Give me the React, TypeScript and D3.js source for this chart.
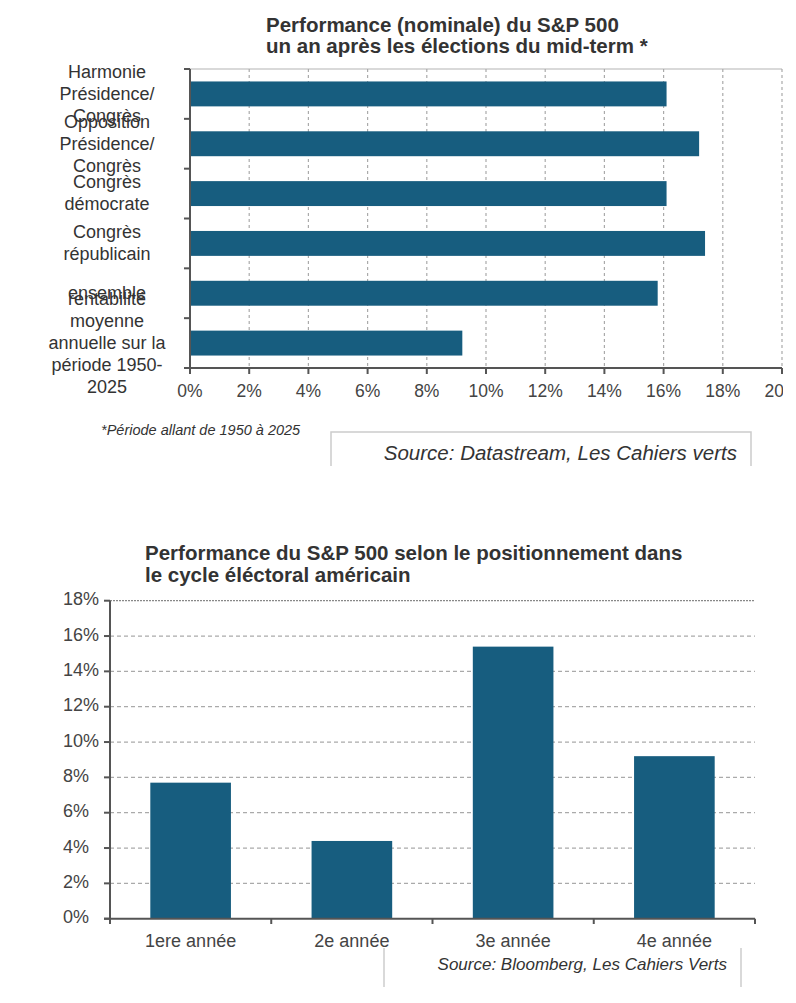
import { useEffect, useRef } from "react";
import * as d3 from "d3";

// chart 1: performance un an après les mid-terms
const midtermLabels: string[][] = [
  ["Harmonie", "Présidence/", "Congrès"],
  ["Opposition", "Présidence/", "Congrès"],
  ["Congrès", "démocrate"],
  ["Congrès", "républicain"],
  ["ensemble"],
  ["rentabilité", "moyenne", "annuelle sur la", "période 1950-", "2025"],
];
const midtermValues = [16.1, 17.2, 16.1, 17.4, 15.8, 9.2];
const midtermTicks = [0, 2, 4, 6, 8, 10, 12, 14, 16, 18, 20];

// chart 2: cycle électoral
const cycleCategories = ["1ere année", "2e année", "3e année", "4e année"];
const cycleValues = [7.7, 4.4, 15.4, 9.2];
const cycleTicks = [0, 2, 4, 6, 8, 10, 12, 14, 16, 18];

const FONT = "'Liberation Sans', Arial, sans-serif";
const BAR = "#175d7f";
const TEXT = "#333";

export default function App() {
  const ref = useRef<SVGSVGElement | null>(null);

  useEffect(() => {
    if (!ref.current) return;
    const svg = d3.select(ref.current);
    svg.selectAll("*").remove();
    svg.attr("width", 796).attr("height", 1003).style("font-family", FONT);

    // ---------- top chart ----------
    const top = svg.append("g");
    const x = d3.scaleLinear().domain([0, 20]).range([190, 782]);
    const idx = midtermValues.map((_, i) => String(i));
    const y = d3.scaleBand().domain(idx).range([69, 368]).paddingInner(0.5).paddingOuter(0.25);

    svg.append("defs").append("clipPath").attr("id", "clipTop")
      .append("rect").attr("x", 0).attr("y", 0).attr("width", 783).attr("height", 420);

    top.selectAll("text.title")
      .data(["Performance (nominale) du S&P 500", "un an après les élections du mid-term *"])
      .enter().append("text")
      .attr("x", 266).attr("y", (d, i) => 32 + i * 21)
      .attr("font-size", 20.5).attr("font-weight", "bold").attr("fill", TEXT)
      .text((d) => d);

    top.append("line")
      .attr("x1", x(0)).attr("x2", x(20)).attr("y1", 69).attr("y2", 69)
      .attr("stroke", "#ccc").attr("stroke-width", 1.5);

    top.selectAll("line.grid")
      .data(midtermTicks.slice(1))
      .enter().append("line")
      .attr("x1", (d) => x(d)).attr("x2", (d) => x(d))
      .attr("y1", 69).attr("y2", 368)
      .attr("stroke", "#aaa").attr("stroke-width", 1.2).attr("stroke-dasharray", "3,3");

    top.selectAll("rect.bar")
      .data(midtermValues)
      .enter().append("rect")
      .attr("x", x(0))
      .attr("y", (d, i) => y(String(i))!)
      .attr("width", (d) => x(d) - x(0))
      .attr("height", y.bandwidth())
      .attr("fill", BAR);

    // axes
    top.append("line").attr("x1", 190).attr("x2", 190).attr("y1", 69).attr("y2", 368)
      .attr("stroke", "#555").attr("stroke-width", 2);
    top.append("line").attr("x1", 184).attr("x2", 782).attr("y1", 368).attr("y2", 368)
      .attr("stroke", "#555").attr("stroke-width", 2);
    const bounds = idx.map((k) => y(k)! - (y.step() * y.paddingInner()) / 2).concat([368]);
    top.selectAll("line.ytick")
      .data(bounds)
      .enter().append("line")
      .attr("x1", 184).attr("x2", 190).attr("y1", (d) => d).attr("y2", (d) => d)
      .attr("stroke", "#555").attr("stroke-width", 2);
    top.selectAll("line.xtick")
      .data(midtermTicks)
      .enter().append("line")
      .attr("x1", (d) => x(d)).attr("x2", (d) => x(d)).attr("y1", 368).attr("y2", 374)
      .attr("stroke", "#555").attr("stroke-width", 2);

    top.append("g").attr("clip-path", "url(#clipTop)")
      .selectAll("text")
      .data(midtermTicks)
      .enter().append("text")
      .attr("x", (d) => x(d)).attr("y", 397)
      .attr("text-anchor", "middle").attr("font-size", 17.5).attr("fill", "#444")
      .text((d) => `${d}%`);

    midtermLabels.forEach((lines, i) => {
      const cy = y(String(i))! + y.bandwidth() / 2 + 1;
      top.append("text")
        .attr("text-anchor", "middle").attr("font-size", 18).attr("fill", TEXT)
        .selectAll("tspan")
        .data(lines)
        .enter().append("tspan")
        .attr("x", 107)
        .attr("y", (d, j) => cy + (j - (lines.length - 1) / 2) * 22)
        .attr("dominant-baseline", "middle")
        .text((d) => d);
    });

    top.append("text")
      .attr("x", 101).attr("y", 435)
      .attr("font-size", 14.5).attr("font-style", "italic").attr("fill", TEXT)
      .text("*Période allant de 1950 à 2025");

    top.append("path")
      .attr("d", "M331,466V432H751V466")
      .attr("fill", "none").attr("stroke", "#ccc").attr("stroke-width", 1.5);
    top.append("text")
      .attr("x", 737).attr("y", 460)
      .attr("text-anchor", "end").attr("font-size", 20.5).attr("font-style", "italic").attr("fill", TEXT)
      .text("Source: Datastream, Les Cahiers verts");

    // ---------- bottom chart ----------
    const bot = svg.append("g");
    const bx = d3.scaleBand().domain(cycleCategories).range([110, 755]).paddingInner(0.5).paddingOuter(0.25);
    const by = d3.scaleLinear().domain([0, 18]).range([918.7, 600.7]);

    bot.selectAll("text.title")
      .data(["Performance du S&P 500 selon le positionnement dans", "le cycle éléctoral américain"])
      .enter().append("text")
      .attr("x", 145).attr("y", (d, i) => 560 + i * 22)
      .attr("font-size", 20.5).attr("font-weight", "bold").attr("fill", TEXT)
      .text((d) => d);

    bot.selectAll("line.grid")
      .data(cycleTicks.slice(1))
      .enter().append("line")
      .attr("x1", 110).attr("x2", 755)
      .attr("y1", (d) => by(d)).attr("y2", (d) => by(d))
      .attr("stroke", (d) => (d === 18 ? "#888" : "#aaa"))
      .attr("stroke-width", 1.2)
      .attr("stroke-dasharray", (d) => (d === 18 ? "2,1" : "4,3"));

    bot.selectAll("rect.bar")
      .data(cycleValues)
      .enter().append("rect")
      .attr("x", (d, i) => bx(cycleCategories[i])!)
      .attr("y", (d) => by(d))
      .attr("width", bx.bandwidth())
      .attr("height", (d) => by(0) - by(d))
      .attr("fill", BAR);

    bot.append("line").attr("x1", 110).attr("x2", 110).attr("y1", 600.7).attr("y2", 924)
      .attr("stroke", "#555").attr("stroke-width", 2);
    bot.append("line").attr("x1", 104).attr("x2", 755).attr("y1", 918.7).attr("y2", 918.7)
      .attr("stroke", "#555").attr("stroke-width", 2);
    bot.selectAll("line.ytick")
      .data(cycleTicks)
      .enter().append("line")
      .attr("x1", 104).attr("x2", 110).attr("y1", (d) => by(d)).attr("y2", (d) => by(d))
      .attr("stroke", "#555").attr("stroke-width", 2);
    const xb = cycleCategories.map((c) => bx(c)! - (bx.step() * bx.paddingInner()) / 2).concat([755]);
    bot.selectAll("line.xtick")
      .data(xb)
      .enter().append("line")
      .attr("x1", (d) => d).attr("x2", (d) => d).attr("y1", 918.7).attr("y2", 924)
      .attr("stroke", "#555").attr("stroke-width", 2);

    bot.selectAll("text.ylab")
      .data(cycleTicks)
      .enter().append("text")
      .attr("x", 63).attr("y", (d) => by(d))
      .attr("dominant-baseline", "middle").attr("font-size", 18).attr("fill", "#444")
      .text((d) => `${d}%`);

    bot.selectAll("text.xlab")
      .data(cycleCategories)
      .enter().append("text")
      .attr("x", (d) => bx(d)! + bx.bandwidth() / 2).attr("y", 947)
      .attr("text-anchor", "middle").attr("font-size", 18).attr("fill", "#444")
      .text((d) => d);

    bot.selectAll("line.sep")
      .data([384, 741])
      .enter().append("line")
      .attr("x1", (d) => d).attr("x2", (d) => d).attr("y1", 948).attr("y2", 987)
      .attr("stroke", "#ccc").attr("stroke-width", 1.5);
    bot.append("text")
      .attr("x", 727).attr("y", 970)
      .attr("text-anchor", "end").attr("font-size", 17).attr("font-style", "italic").attr("fill", TEXT)
      .text("Source: Bloomberg, Les Cahiers Verts");
  }, []);

  return (
    <svg
      ref={(el) => { if (el) ref.current = el; }}
      style={{ position: "absolute", left: 0, top: 0, background: "#fff" }}
    ></svg>
  );
}
